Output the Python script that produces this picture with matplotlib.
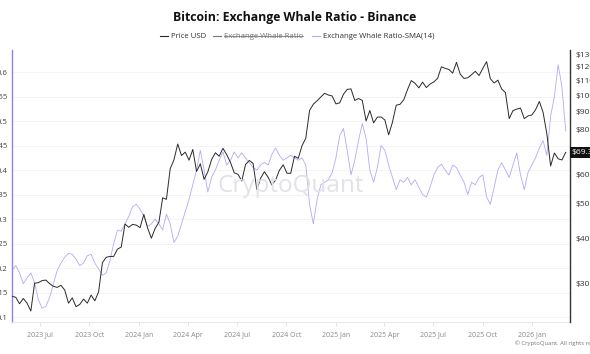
import matplotlib
matplotlib.use("Agg")
import matplotlib.pyplot as plt
import matplotlib.ticker as mticker
from matplotlib.lines import Line2D
import pandas as pd

plt.rcParams['font.family'] = ['Open Sans', 'DejaVu Sans']

# weekly samples, starting 2023-05-10
start_date = '2023-05-10'

# BTC price, thousands of USD
price_k = [27.6, 27.4, 26.3, 27.2, 26.4, 25.1, 30.0, 30.1, 30.5, 30.6,
           29.9, 29.4, 29.2, 29.6, 28.7, 26.4, 27.3, 25.8, 26.2, 27.1,
           26.4, 27.8, 26.8, 28.4, 34.2, 35.4, 35.6, 35.6, 37.3, 37.8,
           43.8, 42.9, 43.7, 43.5, 42.8, 46.6, 42.7, 40.0, 42.6, 44.3,
           51.8, 51.3, 62.4, 66.1, 73.1, 67.9, 69.4, 65.9, 70.6, 61.3,
           64.4, 58.3, 61.2, 66.2, 69.1, 67.6, 71.1, 68.3, 65.0, 60.8,
           60.2, 57.7, 64.1, 65.8, 64.6, 54.6, 58.7, 61.2, 59.1, 56.2,
           58.1, 61.8, 64.0, 60.6, 60.6, 67.6, 66.7, 72.3, 75.9, 90.6,
           94.3, 96.4, 98.8, 101.1, 100.0, 99.4, 94.5, 95.1, 100.5, 103.7,
           104.0, 96.6, 97.8, 96.6, 84.7, 90.6, 83.7, 86.8, 86.9, 85.2,
           77.5, 84.0, 93.7, 94.2, 97.0, 103.5, 109.7, 107.8, 104.7, 108.6,
           104.9, 107.3, 108.8, 111.3, 119.8, 118.6, 117.8, 115.0, 123.3, 114.3,
           111.2, 111.7, 113.9, 116.4, 113.3, 118.6, 123.8, 111.0, 108.0, 110.0,
           103.9, 101.6, 86.0, 90.5, 91.4, 92.0, 86.0, 87.5, 88.0, 91.0,
           96.0, 89.5, 78.0, 63.5, 69.0, 66.5, 66.0, 69.3]

# Exchange Whale Ratio, 14-day SMA
whale_sma = [0.196, 0.205, 0.190, 0.168, 0.180, 0.190, 0.170, 0.135, 0.118, 0.122,
             0.140, 0.168, 0.195, 0.210, 0.222, 0.230, 0.228, 0.218, 0.205, 0.210,
             0.225, 0.228, 0.210, 0.198, 0.185, 0.190, 0.215, 0.250, 0.277, 0.275,
             0.290, 0.305, 0.325, 0.330, 0.320, 0.305, 0.285, 0.290, 0.300, 0.290,
             0.278, 0.310, 0.290, 0.252, 0.265, 0.290, 0.315, 0.340, 0.370, 0.400,
             0.440, 0.400, 0.355, 0.385, 0.400, 0.420, 0.437, 0.410, 0.420, 0.437,
             0.425, 0.435, 0.425, 0.415, 0.405, 0.400, 0.410, 0.416, 0.410, 0.432,
             0.445, 0.430, 0.420, 0.425, 0.430, 0.425, 0.420, 0.425, 0.410, 0.330,
             0.290, 0.340, 0.370, 0.375, 0.380, 0.395, 0.425, 0.470, 0.485, 0.440,
             0.390, 0.420, 0.460, 0.495, 0.465, 0.400, 0.375, 0.405, 0.450, 0.440,
             0.410, 0.385, 0.360, 0.380, 0.375, 0.385, 0.370, 0.380, 0.365, 0.350,
             0.345, 0.365, 0.390, 0.405, 0.412, 0.400, 0.390, 0.410, 0.405, 0.390,
             0.375, 0.350, 0.375, 0.370, 0.385, 0.390, 0.345, 0.330, 0.365, 0.400,
             0.415, 0.400, 0.385, 0.410, 0.435, 0.390, 0.360, 0.395, 0.410, 0.425,
             0.445, 0.460, 0.430, 0.510, 0.550, 0.615, 0.570, 0.480]

x_ticks = ['2023-07-01', '2023-10-01', '2024-01-01', '2024-04-01', '2024-07-01',
           '2024-10-01', '2025-01-01', '2025-04-01', '2025-07-01', '2025-10-01',
           '2026-01-01']
x_labels = ['2023 Jul', '2023 Oct', '2024 Jan', '2024 Apr', '2024 Jul', '2024 Oct',
            '2025 Jan', '2025 Apr', '2025 Jul', '2025 Oct', '2026 Jan']
left_ticks = [0.1, 0.15, 0.2, 0.25, 0.3, 0.35, 0.4, 0.45, 0.5, 0.55, 0.6]
right_ticks = [30, 40, 50, 60, 80, 90, 100, 110, 120, 130]
last_price = 69.3

dates = pd.date_range(start_date, periods=len(price_k), freq='7D')

black = '#2a2a2a'
lavender = '#b2a9f8'
purple = '#8f84ee'

W, H = 590, 354
fig = plt.figure(figsize=(W / 100, H / 100), dpi=100)
ax = fig.add_axes([12 / W, 1 - 322 / H, 558 / W, 272 / H])
ax2 = ax.twinx()

ax.plot(dates, whale_sma, color=lavender, lw=0.6, zorder=2)
ax2.plot(dates, price_k, color=black, lw=0.7, zorder=3)

ax.set_xlim(pd.Timestamp('2023-05-10'), pd.Timestamp('2026-03-12'))
ax.set_ylim(0.0898, 0.645)
ax2.set_yscale('log')
ax2.set_ylim(23.4, 133.4)

# left axis
ax.set_yticks(left_ticks)
ax.set_yticklabels([('%.2f' % v).rstrip('0') for v in left_ticks])
ax.tick_params(axis='y', length=0, pad=3, labelsize=5.6, labelcolor='#444444')
ax.yaxis.grid(True, color='#f2f2f2', lw=0.6)
ax.set_axisbelow(True)

# x axis
ax.set_xticks(pd.to_datetime(x_ticks))
ax.set_xticklabels(x_labels)
ax.tick_params(axis='x', length=3, width=0.5, color='#dddddd', pad=4,
               labelsize=5, labelcolor='#888888')

for a in (ax, ax2):
    for s in a.spines.values():
        s.set_visible(False)
ax.spines['left'].set_visible(True)
ax.spines['left'].set_color(purple)
ax.spines['left'].set_linewidth(1.0)
ax.spines['bottom'].set_visible(True)
ax.spines['bottom'].set_color('#e4e4e4')
ax.spines['bottom'].set_linewidth(0.6)
ax2.spines['right'].set_visible(True)
ax2.spines['right'].set_color('#333333')
ax2.spines['right'].set_linewidth(1.0)

# right axis (price)
ax2.yaxis.set_major_locator(mticker.FixedLocator(right_ticks))
ax2.yaxis.set_minor_locator(mticker.NullLocator())
ax2.yaxis.set_major_formatter(mticker.FuncFormatter(lambda v, p: '$%dK' % v))
ax2.yaxis.set_minor_formatter(mticker.NullFormatter())
ax2.tick_params(axis='y', length=0, pad=4, labelsize=6, labelcolor='#333333')

# last price marker
ax2.text(1.003, last_price, '$%.1fK' % last_price, transform=ax2.get_yaxis_transform(),
         ha='left', va='center', fontsize=6, color='white',
         bbox=dict(boxstyle='square,pad=0.25', fc='#111111', ec='none'), zorder=10)

# watermark
fig.text(291 / W, 1 - 186 / H, 'CryptoQuant', ha='center', va='center',
         fontsize=17.5, color='#e2e2e8', zorder=0)

# title
fig.text(0.5, 1 - 18 / H, 'Bitcoin: Exchange Whale Ratio - Binance',
         ha='center', va='center', fontsize=8.8, fontweight='bold', color='#111111')

# legend
ly = 1 - 36 / H
def legend_item(x0, color, label, tcolor, strike=False):
    fig.add_artist(Line2D([x0 / W, (x0 + 8) / W], [ly, ly], color=color, lw=0.8,
                          transform=fig.transFigure))
    t = fig.text((x0 + 11) / W, ly, label, ha='left', va='center',
                 fontsize=5.6, color=tcolor)
    if strike:
        fig.canvas.draw()
        bb = t.get_window_extent()
        fig.add_artist(Line2D([bb.x0 / W, bb.x1 / W], [ly, ly], color=tcolor, lw=0.6,
                              transform=fig.transFigure))

legend_item(160, black, 'Price USD', '#333333')
legend_item(213, '#777777', 'Exchange Whale Ratio', '#777777', strike=True)
legend_item(312, lavender, 'Exchange Whale Ratio-SMA(14)', '#333333')

# copyright
fig.text(515 / W, 1 - 343 / H, '\u00a9 CryptoQuant. All rights reserved.',
         ha='left', va='center', fontsize=4.2, color='#777777')

fig.savefig('out.png', dpi=100)
